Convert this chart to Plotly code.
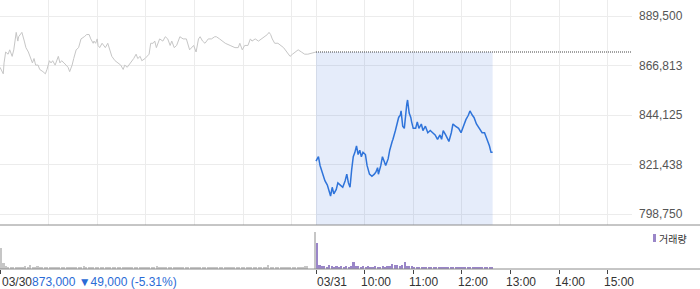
import plotly.graph_objects as go

# ---------------- data ----------------
prev_date = "03/30"
today_date = "03/31"
prev_close = 873000
prev_change = -49000

prev_times = ["09:00","09:04","09:05","09:07","09:10","09:12","09:15","09:17","09:20","09:22",
              "09:23","09:26","09:27","09:30","09:32","09:35","09:37","09:40","09:42","09:44",
              "09:47","09:49","09:53","09:56","09:58","10:01","10:03","10:05","10:08","10:10",
              "10:12","10:14","10:16","10:19","10:21","10:24","10:26","10:29","10:31","10:34",
              "10:37","10:40","10:44","10:47","10:50","10:52","10:55","10:56","10:58","11:00",
              "11:01","11:03","11:06","11:10","11:13","11:16","11:18","11:22","11:26","11:29",
              "11:32","11:34","11:37","11:39","11:42","11:45","11:48","11:50","11:53","11:55",
              "11:59","12:01","12:04","12:06","12:09","12:11","12:13","12:17","12:21","12:24",
              "12:27","12:30","12:32","12:35","12:38","12:42","12:46","12:50","12:54","12:59",
              "13:02","13:05","13:07","13:10","13:13","13:17","13:21","13:25","13:27","13:31",
              "13:38","13:44","13:50","13:54","13:56","13:59","14:02","14:06","14:09","14:11",
              "14:15","14:19","14:23","14:27","14:30","14:32","14:34","14:36","14:39","14:43",
              "14:46","14:50","14:54","14:58","15:01","15:04","15:08","15:12","15:16","15:20",
              "15:30"]
prev_prices = [866000,863000,868000,873000,872000,874000,871000,874000,882000,878000,
               880000,882000,882000,878000,875000,873000,871000,868000,870000,867000,
               867000,865000,864000,863000,865000,869000,868000,869000,867000,869000,
               871000,868000,869000,868000,867000,866000,864000,867000,870000,874000,
               875000,879000,880000,881000,881000,879000,877000,878000,877000,879000,
               876000,875000,877000,875000,877000,874000,871000,869000,868000,867000,
               865000,867000,866000,867000,868000,870000,872000,870000,871000,869000,
               870000,871000,872000,877000,877000,878000,875000,879000,878000,880000,
               879000,876000,878000,875000,876000,880000,879000,879000,874000,876000,
               873000,879000,880000,878000,877000,879000,879000,880000,880000,879000,
               877000,876000,875000,875000,877000,874000,876000,876000,879000,878000,
               879000,878000,879000,880000,881000,882000,881000,879000,877000,877000,
               876000,875000,873000,871000,872000,873000,874000,873000,872000,872000,
               873000]

today_times = ["09:00","09:03","09:05","09:08","09:11","09:14","09:16","09:18","09:20","09:22",
               "09:25","09:27","09:30","09:33","09:36","09:38","09:40","09:42","09:44","09:46",
               "09:48","09:50","09:52","09:54","09:56","09:58","10:01","10:03","10:06","10:09",
               "10:12","10:14","10:16","10:17","10:20","10:22","10:24","10:26","10:29","10:31",
               "10:34","10:35","10:38","10:40","10:42","10:44","10:45","10:47","10:49","10:52",
               "10:53","10:55","10:57","10:58","11:00","11:03","11:05","11:07","11:10","11:12",
               "11:15","11:18","11:21","11:24","11:27","11:30","11:33","11:35","11:37","11:40",
               "11:43","11:44","11:47","11:49","11:52","11:56","11:59","12:02","12:05","12:08",
               "12:10","12:13","12:15","12:18","12:21","12:25","12:28","12:31","12:34","12:36",
               "12:38"]
today_prices = [823000,825000,821000,817000,814000,812000,809000,807000,811000,808000,
                810000,813000,812000,811000,814000,817000,813000,811000,819000,825000,
                827000,830000,826000,828000,825000,827000,826000,821000,817000,816000,
                817000,818000,820000,817000,821000,825000,823000,821000,824000,828000,
                832000,833000,837000,840000,843000,844000,846000,839000,838000,849000,
                851000,845000,843000,841000,838000,838000,841000,838000,840000,837000,
                839000,836000,837000,836000,835000,833000,835000,833000,837000,835000,
                833000,832000,836000,840000,839000,838000,836000,839000,842000,844000,
                846000,844000,843000,840000,838000,836000,836000,833000,830000,827000,
                827000]

# volume, 3-minute buckets starting 09:00
prev_volumes = [4800,1300,600,450,500,400,550,450,500,400,
                600,500,850,500,450,600,400,500,450,400,
                550,450,500,400,450,500,400,450,550,400,
                450,400,500,450,650,500,450,400,450,500,
                450,400,350,400,450,350,400,450,400,350,
                400,450,400,500,450,550,450,400,500,450,
                400,450,400,500,600,450,400,350,400,450,
                400,350,400,450,400,350,400,450,500,400,
                350,400,450,400,350,400,450,400,350,400,
                450,400,350,400,450,400,500,400,350,400,
                450,400,450,500,400,450,400,350,450,500,
                1000,500,450,400,450,400,350,400,450,400,
                450,400,500,450,550,700,600]
prev_closing_auction_time = "15:30"
prev_closing_auction_volume = 8300
today_volumes = [5750,900,600,650,550,900,700,550,650,500,
                 600,550,650,500,600,1550,700,600,550,650,
                 500,600,550,500,600,550,500,600,550,650,
                 700,1150,800,850,750,900,1550,750,700,650,
                 450,400,350,400,300,350,450,450,400,450,
                 350,400,350,300,400,350,300,350,400,350,
                 300,350,400,350,300,350,400,300,350,400,
                 350,300,350]

today_hour_labels = ["10:00", "11:00", "12:00", "13:00", "14:00", "15:00"]
prev_hour_labels = ["10:00", "11:00", "12:00", "13:00", "14:00", "15:00"]
session_open, session_close = "09:00", "15:30"
price_ticks = [798750, 821437.5, 844125, 866812.5, 889500]
volume_label = "거래량"

# ---------------- helpers ----------------
def minutes(t):
    h, m = t.split(":")
    return (int(h) - 9) * 60 + int(m)

SESSION = minutes(session_close) - minutes(session_open)   # 390

def px(t, day):
    return day * SESSION + minutes(t)

BUCKET = 3
prev_vol_x = [i * BUCKET for i in range(len(prev_volumes))]
today_vol_x = [SESSION + i * BUCKET for i in range(len(today_volumes))]

prev_x = [px(t, 0) for t in prev_times]
today_x = [px(t, 1) for t in today_times]

PRICE_GRAY = "#c6c6c6"
BLUE = "#2f74da"
PURPLE = "#9a86c8"
GRID = "#ececec"
FONT = "Liberation Sans, Arial, sans-serif"

# layout geometry (pixels)
W, H = 700, 289
M_R, M_B = 68, 20
PLOT_H = H - M_B
VOL_H = 44
split = VOL_H / PLOT_H

y_top = 896833
y_bot = 793708

fig = go.Figure()

# shaded area between previous close and bottom for today's session
fig.add_trace(go.Scatter(
    x=[today_x[0], today_x[-1]], y=[prev_close, prev_close],
    mode="none", fill="tozeroy", fillcolor="rgba(40,100,215,0.12)",
    hoverinfo="skip", showlegend=False, xaxis="x", yaxis="y"))

# previous day price
fig.add_trace(go.Scatter(
    x=prev_x, y=prev_prices, mode="lines",
    line=dict(color=PRICE_GRAY, width=1), showlegend=False,
    xaxis="x", yaxis="y"))

# previous close dotted line
fig.add_trace(go.Scatter(
    x=[px(session_open, 1), px(session_close, 1)], y=[prev_close, prev_close],
    mode="lines", line=dict(color="#444444", width=1, dash="1px,1px"),
    showlegend=False, hoverinfo="skip", xaxis="x", yaxis="y"))

# today price
fig.add_trace(go.Scatter(
    x=today_x, y=today_prices, mode="lines",
    line=dict(color=BLUE, width=1.5), showlegend=False,
    xaxis="x", yaxis="y"))

# volumes
fig.add_trace(go.Bar(
    x=prev_vol_x, y=prev_volumes, width=2.6, offset=0,
    marker=dict(color="#c6c6c6", line=dict(width=0)),
    showlegend=False, xaxis="x2", yaxis="y2"))
fig.add_trace(go.Bar(
    x=[px(prev_closing_auction_time, 0)], y=[prev_closing_auction_volume],
    width=1.3, offset=-1.3,
    marker=dict(color="#c6c6c6", line=dict(width=0)),
    showlegend=False, xaxis="x2", yaxis="y2"))
fig.add_trace(go.Bar(
    x=today_vol_x, y=today_volumes, width=2.6, offset=0,
    marker=dict(color=PURPLE, line=dict(width=0)),
    showlegend=False, xaxis="x2", yaxis="y2"))

grid_x = [px(h, 0) for h in prev_hour_labels] + [px(session_open, 0), px(session_open, 1)] + \
         [px(h, 1) for h in today_hour_labels]
tick_x2 = [px(session_open, 0), px(session_open, 1)] + [px(h, 1) for h in today_hour_labels]

vmax = max(prev_volumes + today_volumes + [prev_closing_auction_volume])

fig.update_layout(
    width=W, height=H,
    margin=dict(l=0, r=M_R, t=0, b=M_B, pad=0),
    paper_bgcolor="white", plot_bgcolor="white",
    barmode="overlay", bargap=0,
    font=dict(family=FONT, size=12, color="#333333"),
    xaxis=dict(domain=[0, 1], range=[0, 2 * SESSION], anchor="y",
               tickmode="array", tickvals=grid_x, showticklabels=False,
               showgrid=True, gridcolor=GRID, gridwidth=1, zeroline=False,
               showline=False, ticks=""),
    yaxis=dict(domain=[split, 1], range=[y_bot, y_top], side="right",
               tickmode="array", tickvals=price_ticks,
               ticktext=[f"{int(v + 0.5):,}" for v in price_ticks],
               tickfont=dict(family=FONT, size=12, color="#555555"),
               showgrid=True, gridcolor=GRID, gridwidth=1, zeroline=False,
               showline=False, ticks="", ticklabelstandoff=6),
    xaxis2=dict(domain=[0, 1], range=[0, 2 * SESSION], anchor="y2", matches="x",
                tickmode="array", tickvals=tick_x2, showticklabels=False,
                ticks="outside", ticklen=4, tickcolor="#444444", tickwidth=1,
                showgrid=False, zeroline=False, showline=False),
    yaxis2=dict(domain=[0, split], range=[0, vmax * VOL_H / 37], showgrid=False,
                showticklabels=False, zeroline=False, showline=False, ticks=""),
)

# panel separator lines spanning the full width
fig.add_shape(type="line", xref="paper", yref="paper", x0=0, x1=W / (W - M_R),
              y0=split, y1=split, line=dict(color="#8c8c8c", width=1))
fig.add_shape(type="line", xref="paper", yref="paper", x0=0, x1=W / (W - M_R),
              y0=0, y1=0, line=dict(color="#8c8c8c", width=1))

# x labels
pct = prev_change / (prev_close - prev_change) * 100
arrow = "▼" if prev_change < 0 else "▲"
change_txt = f"{prev_close:,} {arrow}{abs(prev_change):,} ({pct:+.2f}%)".replace("+", "")
fig.add_annotation(xref="x2", yref="paper", x=px(session_open, 0), y=0,
                   xanchor="left", yanchor="top", yshift=-4, showarrow=False,
                   text=f"{prev_date}<span style='color:#2a6bd6'>{change_txt}</span>",
                   font=dict(family=FONT, size=12, color="#333333"))
fig.add_annotation(xref="x2", yref="paper", x=px(session_open, 1), y=0,
                   xanchor="left", yanchor="top", yshift=-4, xshift=-1, showarrow=False,
                   text=today_date, font=dict(family=FONT, size=12, color="#333333"))
for h in today_hour_labels:
    fig.add_annotation(xref="x2", yref="paper", x=px(h, 1), y=0,
                       xanchor="left", yanchor="top", yshift=-4, xshift=-6, showarrow=False,
                       text=h, font=dict(family=FONT, size=12, color="#333333"))

# legend for volume
pw = W - M_R
fig.add_shape(type="rect", xref="paper", yref="paper",
              x0=653 / pw, x1=656 / pw, y0=(PLOT_H - 242) / PLOT_H, y1=(PLOT_H - 234) / PLOT_H,
              fillcolor=PURPLE, line=dict(width=0))
fig.add_annotation(xref="paper", yref="paper", x=657 / pw, y=(PLOT_H - 238) / PLOT_H,
                   xanchor="left", yanchor="middle", showarrow=False, text=volume_label,
                   font=dict(family="Noto Sans CJK KR", size=10, color="#333333"))

fig.write_html("out.html", config={"displayModeBar": False})
